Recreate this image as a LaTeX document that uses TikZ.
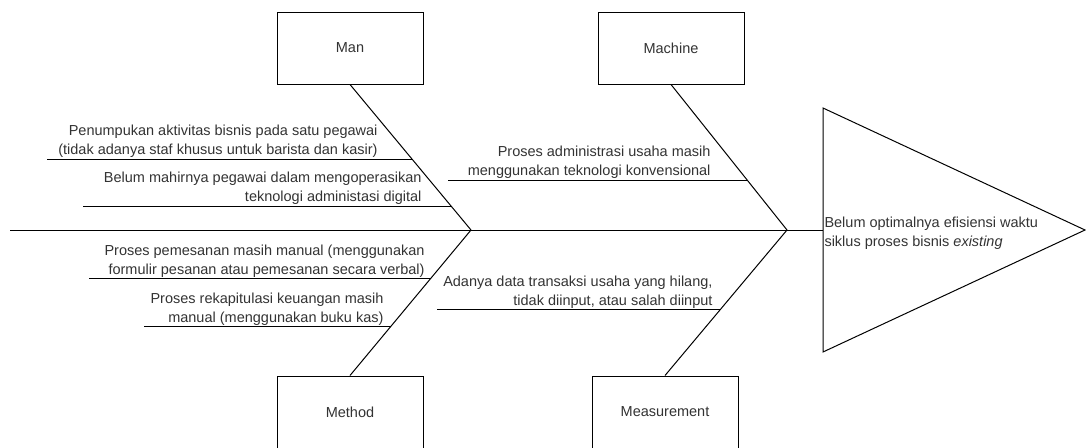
\documentclass[tikz,border=0pt]{standalone}
\usepackage{fontspec}
\setmainfont{Liberation Sans}
\usetikzlibrary{calc}
\newcommand{\fishfont}{\fontsize{14.5pt}{18.5pt}\selectfont}

\begin{document}
\begin{tikzpicture}[
  x=1pt,y=1pt,
  line width=1pt,
  category/.style={draw, fill=white, font=\fishfont, text=black!80, minimum width=146pt, minimum height=72pt, inner sep=0pt},
  cause/.style={font=\fishfont, text=black!80, align=right, anchor=east, inner sep=0pt},
  effect/.style={font=\fishfont, text=black!80, align=left, anchor=west, inner sep=0pt}
]
\useasboundingbox (0,0) rectangle (1086,-447);

\node[category] (man)     at (350,-48)  {Man};
\node[category] (machine) at (671,-48)  {Machine};
\node[category] (method)  at (350,-412) {Method};
\node[category] (measure) at (665,-412) {Measurement};

\coordinate (tail)   at (10,-230);
\coordinate (manap)  at (471,-230);
\coordinate (machap) at (787,-230);
\coordinate (htop)   at (823,-108);
\coordinate (htip)   at (1085,-230);
\coordinate (hbot)   at (823,-352);
\coordinate (hbase)  at (823,-230);

\draw (htop) -- (htip) -- (hbot) -- cycle;
\draw (tail) -- (hbase);
\draw (man.south) -- (manap);
\draw (machine.south) -- (machap);
\draw (method.north) -- (manap);
\draw (measure.north) -- (machap);

\coordinate (c1) at ($(man.south)!0.514!(manap)$);
\coordinate (c2) at ($(man.south)!0.836!(manap)$);
\coordinate (c3) at ($(method.north)!0.664!(manap)$);
\coordinate (c4) at ($(method.north)!0.336!(manap)$);
\coordinate (c5) at ($(machine.south)!0.658!(machap)$);
\coordinate (c6) at ($(measure.north)!0.452!(machap)$);

\coordinate (e1) at (47,0);
\coordinate (e2) at (83,0);
\coordinate (e3) at (89,0);
\coordinate (e4) at (144,0);
\coordinate (e5) at (448,0);
\coordinate (e6) at (437,0);

\draw (c1 -| e1) -- (c1);
\draw (c2 -| e2) -- (c2);
\draw (c3 -| e3) -- (c3);
\draw (c4 -| e4) -- (c4);
\draw (c5 -| e5) -- (c5);
\draw (c6 -| e6) -- (c6);

\node[cause] (t1) at (378,-141) {Penumpukan aktivitas bisnis pada satu pegawai\\(tidak adanya staf khusus untuk barista dan kasir)};
\node[cause] (t2) at (422,-188) {Belum mahirnya pegawai dalam mengoperasikan\\teknologi administasi digital};
\node[cause] (t3) at (425,-261) {Proses pemesanan masih manual (menggunakan\\formulir pesanan atau pemesanan secara verbal)};
\node[cause] (t4) at (384,-309) {Proses rekapitulasi keuangan masih\\manual (menggunakan buku kas)};
\node[cause] (t5) at (711,-162) {Proses administrasi usaha masih\\menggunakan teknologi konvensional};
\node[cause] (t6) at (713,-292) {Adanya data transaksi usaha yang hilang,\\tidak diinput, atau salah diinput};

\node[effect] (goal) at (824,-233) {Belum optimalnya efisiensi waktu\\siklus proses bisnis \textit{existing}};
\end{tikzpicture}
\end{document}
